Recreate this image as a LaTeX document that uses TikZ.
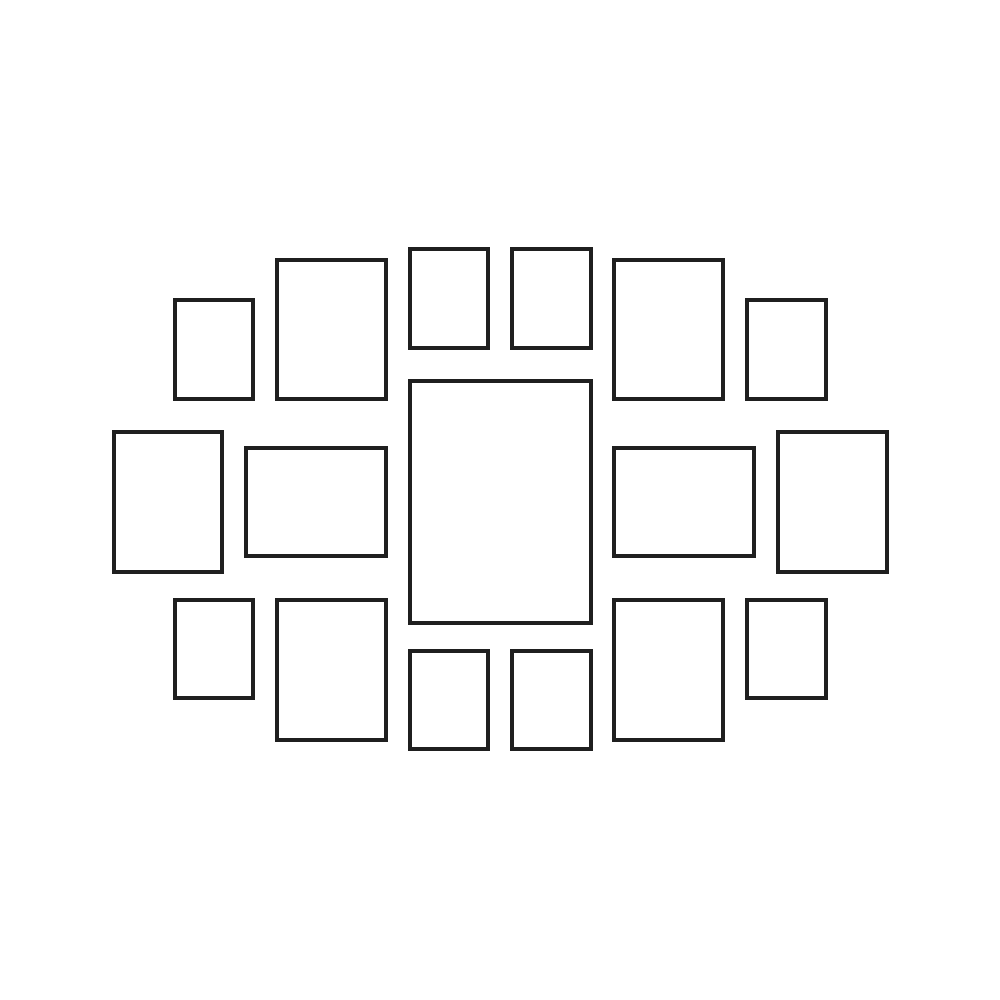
\documentclass[tikz,border=0pt]{standalone}
\begin{document}
\begin{tikzpicture} [x = 0.01cm, y = -0.01cm]
\tikzset{frame/.style = {draw = black!88, line width = 0.34mm}}
\useasboundingbox[fill = white] (0, 0) rectangle (1000, 1000);
\draw[frame] (175, 300) rectangle (253, 399); %top left small
\draw[frame] (277, 260) rectangle (386, 399); %top left big
\draw[frame] (410, 249) rectangle (488, 348); %top middle left
\draw[frame] (512, 249) rectangle (591, 348); %top middle right
\draw[frame] (614, 260) rectangle (723, 399); %top right big
\draw[frame] (747, 300) rectangle (826, 399); %top right small
\draw[frame] (114, 432) rectangle (222, 572); %left end
\draw[frame] (246, 448) rectangle (386, 556); %left wide
\draw[frame] (410, 381) rectangle (591, 623); %centre
\draw[frame] (614, 448) rectangle (754, 556); %right wide
\draw[frame] (778, 432) rectangle (887, 572); %right end
\draw[frame] (175, 600) rectangle (253, 698); %bottom left small
\draw[frame] (277, 600) rectangle (386, 740); %bottom left big
\draw[frame] (410, 651) rectangle (488, 749); %bottom middle left
\draw[frame] (512, 651) rectangle (591, 749); %bottom middle right
\draw[frame] (614, 600) rectangle (723, 740); %bottom right big
\draw[frame] (747, 600) rectangle (826, 698); %bottom right small
\end{tikzpicture}
\end{document}
